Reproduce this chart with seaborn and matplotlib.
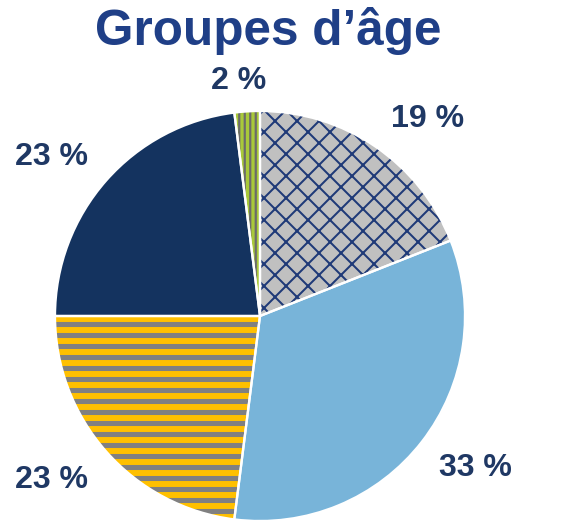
import matplotlib
matplotlib.use("Agg")
import matplotlib.pyplot as plt
import seaborn as sns

# data
groups = ["groupe 1", "groupe 2", "groupe 3", "groupe 4", "groupe 5"]
shares = [19, 33, 23, 23, 2]
labels = ["19 %", "33 %", "23 %", "23 %", "2 %"]

face_colors = ["#C0C0C0", "#78B4D9", "#FFC000", "#14335F", "#A9C93A"]
hatch_colors = ["#1F3A78", "#78B4D9", "#808080", "#14335F", "#6B6B6B"]
hatches = ["x", None, "-", None, "||"]
hatch_widths = [2.2, 1.0, 5.5, 1.0, 2.4]

# label placement (axes data units, pie radius = 1)
label_pos = [(0.815, 0.96), (1.05, -0.74), (-1.015, -0.80), (-1.015, 0.775), (-0.105, 1.145)]

sns.set_theme(style="white")
plt.rcParams["font.family"] = ["Liberation Sans", "DejaVu Sans"]

DPI = 66
fig = plt.figure(figsize=(576 / DPI, 520 / DPI), dpi=DPI)
ax = fig.add_axes([(260 - 205) / 576, (204 - 205) / 520, 410 / 576, 410 / 520])

# filled wedges; edge colour drives hatch colour
wedges, texts = ax.pie(shares, labels=labels, colors=face_colors, startangle=90,
                       counterclock=False, labeldistance=1.25,
                       wedgeprops=dict(linewidth=0),
                       textprops=dict(fontsize=35, fontweight="bold", color="#1F3864"))
for w, h, hc, hw in zip(wedges, hatches, hatch_colors, hatch_widths):
    w.set_edgecolor(hc)
    if h:
        w.set_hatch(h)
        if hasattr(w, "set_hatch_linewidth"):
            w.set_hatch_linewidth(hw)
for t, pos in zip(texts, label_pos):
    t.set_position(pos)
    t.set_horizontalalignment("center")
    t.set_verticalalignment("center")

# white separators on top
ax.pie(shares, colors=["none"] * 5, startangle=90, counterclock=False,
       wedgeprops=dict(linewidth=2.5, edgecolor="white", facecolor="none"))

ax.set_xlim(-1, 1)
ax.set_ylim(-1, 1)
ax.set_aspect("equal")

fig.text(0.465, 0.94, "Groupes d\u2019âge", ha="center", va="center",
         fontsize=54, fontweight="bold", color="#1F3F87")

fig.savefig("out.png", dpi=DPI)
